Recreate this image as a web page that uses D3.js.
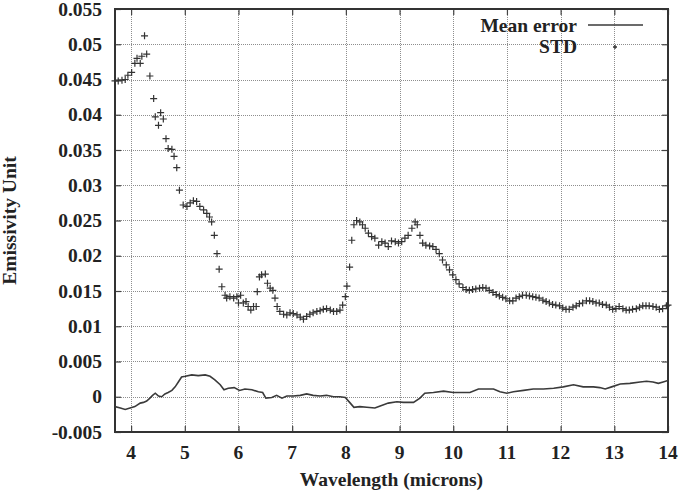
<!DOCTYPE html>
<html><head><meta charset="utf-8">
<script src="https://cdn.jsdelivr.net/npm/d3@7"></script>
<style>body{margin:0;background:#fff}svg{display:block}text{font-family:"Liberation Serif","Times New Roman",serif;font-weight:bold;fill:#222}</style>
</head><body>
<svg id="c" width="680" height="490"></svg>
<script>
const xTicks = [4,5,6,7,8,9,10,11,12,13,14];
const yTicks = [-0.005,0,0.005,0.01,0.015,0.02,0.025,0.03,0.035,0.04,0.045,0.05,0.055];
const yTickLabels = ["-0.005","0","0.005","0.01","0.015","0.02","0.025","0.03","0.035","0.04","0.045","0.05","0.055"];
const seriesNames = ["Mean error","STD"];

const meanX = [3.70,3.80,3.89,3.98,4.07,4.17,4.23,4.29,4.35,4.40,4.45,4.51,4.57,4.63,4.69,4.76,4.82,4.88,4.94,5.01,5.13,5.25,5.38,5.47,5.56,5.66,5.73,5.81,5.92,6.02,6.12,6.25,6.37,6.45,6.51,6.62,6.71,6.81,6.90,7.02,7.15,7.27,7.39,7.52,7.64,7.77,7.89,7.99,8.07,8.15,8.26,8.39,8.54,8.64,8.79,8.95,9.07,9.26,9.38,9.47,9.63,9.82,10.00,10.19,10.31,10.47,10.62,10.75,10.87,11.00,11.12,11.31,11.49,11.68,11.87,12.05,12.24,12.42,12.61,12.73,12.83,12.95,13.11,13.29,13.48,13.60,13.72,13.82,13.91,14.00];
const meanY = [-0.0014,-0.0016,-0.0018,-0.0016,-0.0014,-0.0009,-0.0008,-0.0006,-0.0002,0.0002,0.0005,0.0001,0.0,0.0004,0.0006,0.0009,0.0014,0.0021,0.0028,0.0029,0.0031,0.0030,0.0031,0.0029,0.0024,0.0017,0.0010,0.0012,0.0013,0.0009,0.0011,0.0010,0.0007,0.0006,-0.0002,-0.0001,0.0002,-0.0002,0.0001,0.0001,0.0002,0.0004,0.0002,0.0001,0.0002,0.0,0.0,-0.0001,-0.0008,-0.0015,-0.0014,-0.0015,-0.0016,-0.0013,-0.0009,-0.0007,-0.0008,-0.0008,-0.0002,0.0005,0.0006,0.0008,0.0006,0.0006,0.0006,0.0011,0.0011,0.0011,0.0007,0.0005,0.0007,0.0009,0.0011,0.0011,0.0012,0.0014,0.0017,0.0014,0.0014,0.0013,0.0011,0.0014,0.0018,0.0019,0.0021,0.0022,0.0021,0.0019,0.0021,0.0023];

const stdX = [3.70,3.76,3.83,3.89,3.94,4.01,4.07,4.11,4.17,4.20,4.25,4.29,4.35,4.42,4.45,4.51,4.55,4.60,4.65,4.69,4.76,4.80,4.85,4.90,4.97,5.04,5.10,5.16,5.22,5.28,5.35,5.41,5.46,5.50,5.55,5.60,5.64,5.69,5.75,5.78,5.84,5.91,5.97,6.00,6.04,6.09,6.14,6.18,6.23,6.28,6.33,6.35,6.39,6.43,6.50,6.54,6.59,6.64,6.68,6.72,6.77,6.84,6.90,6.96,7.02,7.09,7.15,7.21,7.27,7.33,7.39,7.46,7.52,7.58,7.64,7.71,7.77,7.83,7.89,7.94,7.99,8.02,8.07,8.11,8.15,8.20,8.26,8.31,8.36,8.42,8.48,8.54,8.61,8.67,8.73,8.79,8.85,8.92,8.98,9.04,9.10,9.16,9.23,9.29,9.33,9.38,9.43,9.49,9.56,9.62,9.68,9.74,9.80,9.87,9.93,9.99,10.05,10.11,10.18,10.24,10.30,10.36,10.42,10.49,10.55,10.61,10.67,10.74,10.80,10.86,10.92,10.98,11.05,11.11,11.17,11.23,11.29,11.36,11.42,11.48,11.54,11.60,11.67,11.73,11.79,11.85,11.91,11.98,12.04,12.10,12.16,12.23,12.29,12.35,12.41,12.48,12.54,12.60,12.66,12.72,12.78,12.85,12.91,12.97,13.03,13.09,13.16,13.22,13.28,13.34,13.41,13.47,13.53,13.59,13.65,13.72,13.78,13.84,13.90,13.97,14.00];
const stdY = [0.0448,0.0448,0.0449,0.0450,0.0456,0.0460,0.0473,0.0480,0.0473,0.0483,0.0512,0.0486,0.0455,0.0423,0.0397,0.0385,0.0403,0.0394,0.0366,0.0352,0.0351,0.0341,0.0325,0.0293,0.0272,0.0270,0.0275,0.0278,0.0277,0.0270,0.0265,0.0260,0.0255,0.0248,0.0229,0.0203,0.0181,0.0156,0.0144,0.0140,0.0142,0.0140,0.0142,0.0133,0.0144,0.0133,0.0135,0.0128,0.0123,0.0128,0.0128,0.0149,0.0170,0.0173,0.0174,0.0161,0.0154,0.0151,0.0140,0.0128,0.0121,0.0117,0.0116,0.0119,0.0118,0.0116,0.0113,0.0110,0.0114,0.0117,0.0119,0.0121,0.0122,0.0124,0.0125,0.0123,0.0121,0.0121,0.0123,0.0130,0.0142,0.0157,0.0184,0.0222,0.0244,0.0250,0.0248,0.0244,0.0239,0.0232,0.0227,0.0225,0.0215,0.0220,0.0218,0.0213,0.0221,0.0220,0.0218,0.0220,0.0225,0.0229,0.0239,0.0248,0.0244,0.0229,0.0218,0.0215,0.0214,0.0213,0.0209,0.0203,0.0194,0.0187,0.0180,0.0173,0.0166,0.0160,0.0155,0.0152,0.0151,0.0152,0.0153,0.0154,0.0155,0.0154,0.0151,0.0148,0.0145,0.0143,0.0141,0.0139,0.0136,0.0136,0.0140,0.0142,0.0144,0.0144,0.0143,0.0142,0.0141,0.0140,0.0137,0.0135,0.0133,0.0131,0.0130,0.0129,0.0126,0.0124,0.0124,0.0127,0.0129,0.0132,0.0133,0.0136,0.0136,0.0135,0.0133,0.0133,0.0131,0.0130,0.0127,0.0124,0.0125,0.0128,0.0125,0.0123,0.0123,0.0124,0.0125,0.0127,0.0129,0.0129,0.0129,0.0128,0.0127,0.0124,0.0125,0.0129,0.0130];

const L = 115, R = 668, T = 9, B = 432;
const svg = d3.select("#c");
const x = d3.scaleLinear().domain([3.7, 14]).range([L, R]);
const y = d3.scaleLinear().domain([-0.005, 0.055]).range([B, T]);

svg.append("defs").append("clipPath").attr("id","clip").append("rect")
  .attr("x",L).attr("y",T).attr("width",R-L).attr("height",B-T);

// grid drawn as dots along each tick position
const gridG = svg.append("g").attr("fill","#8e8e8e");
const step = 2;
xTicks.forEach(t => {
  const px = Math.round(x(t));
  gridG.append("path").attr("d", d3.range(T, B, step).map(v=>`M${px},${v}h1v1h-1z`).join(""));
});
yTicks.forEach(t => {
  const py = Math.round(y(t));
  gridG.append("path").attr("d", d3.range(L, R, step).map(v=>`M${v},${py}h1v1h-1z`).join(""));
});

// axes with inward ticks (mirrored)
const tl = 6;
const axL = svg.append("g").attr("transform",`translate(${L},0)`)
  .call(d3.axisRight(y).tickValues(yTicks).tickSize(tl).tickFormat(""));
const axR = svg.append("g").attr("transform",`translate(${R},0)`)
  .call(d3.axisLeft(y).tickValues(yTicks).tickSize(tl).tickFormat(""));
const axB = svg.append("g").attr("transform",`translate(0,${B})`)
  .call(d3.axisTop(x).tickValues(xTicks).tickSize(tl).tickFormat(""));
const axT = svg.append("g").attr("transform",`translate(0,${T})`)
  .call(d3.axisBottom(x).tickValues(xTicks).tickSize(tl).tickFormat(""));
[axL,axR,axB,axT].forEach(a=>{a.select(".domain").remove();a.selectAll("line").attr("stroke","#444").attr("stroke-width",1.2);});

// tick labels
svg.append("g").selectAll("text").data(yTicks).join("text")
  .attr("x",L-13).attr("y",d=>y(d)+6.5).attr("text-anchor","end").attr("font-size",19.5)
  .text((d,i)=>yTickLabels[i]);
svg.append("g").selectAll("text").data(xTicks).join("text")
  .attr("x",d=>x(d)).attr("y",B+27).attr("text-anchor","middle").attr("font-size",19.5)
  .text(d=>d);

// border
svg.append("rect").attr("x",L).attr("y",T).attr("width",R-L).attr("height",B-T)
  .attr("fill","none").attr("stroke","#333").attr("stroke-width",2);

// axis titles
svg.append("text").attr("x",(L+R)/2).attr("y",486).attr("text-anchor","middle").attr("font-size",19.5)
  .text("Wavelength (microns)");
svg.append("text").attr("transform",`translate(16,${(T+B)/2}) rotate(-90)`).attr("text-anchor","middle").attr("font-size",19.5)
  .text("Emissivity Unit");

const plot = svg.append("g").attr("clip-path","url(#clip)");
const meanData = meanX.map((v,i)=>[v,meanY[i]]);
plot.append("path").datum(meanData)
  .attr("d", d3.line().x(d=>x(d[0])).y(d=>y(d[1])))
  .attr("fill","none").attr("stroke","#3a3a3a").attr("stroke-width",1.6);

const s = 3.5;
const stdData = stdX.map((v,i)=>[v,stdY[i]]);
svg.append("g").selectAll("path").data(stdData).join("path")
  .attr("d",d=>{const px=x(d[0]),py=y(d[1]);return `M${px-s},${py}h${2*s}M${px},${py-s}v${2*s}`;})
  .attr("stroke","#333").attr("stroke-width",1.2).attr("fill","none");

// legend
const lg = svg.append("g");
lg.append("text").attr("x",577).attr("y",32).attr("text-anchor","end").attr("font-size",19.5).text(seriesNames[0]);
lg.append("text").attr("x",577).attr("y",53).attr("text-anchor","end").attr("font-size",19.5).text(seriesNames[1]);
lg.append("line").attr("x1",588).attr("x2",643).attr("y1",25).attr("y2",25).attr("stroke","#3a3a3a").attr("stroke-width",1.6);
lg.append("path").attr("d",`M${615-2},47h4M615,${47-2}v4`).attr("stroke","#333").attr("stroke-width",1.3);
</script>
</body></html>
